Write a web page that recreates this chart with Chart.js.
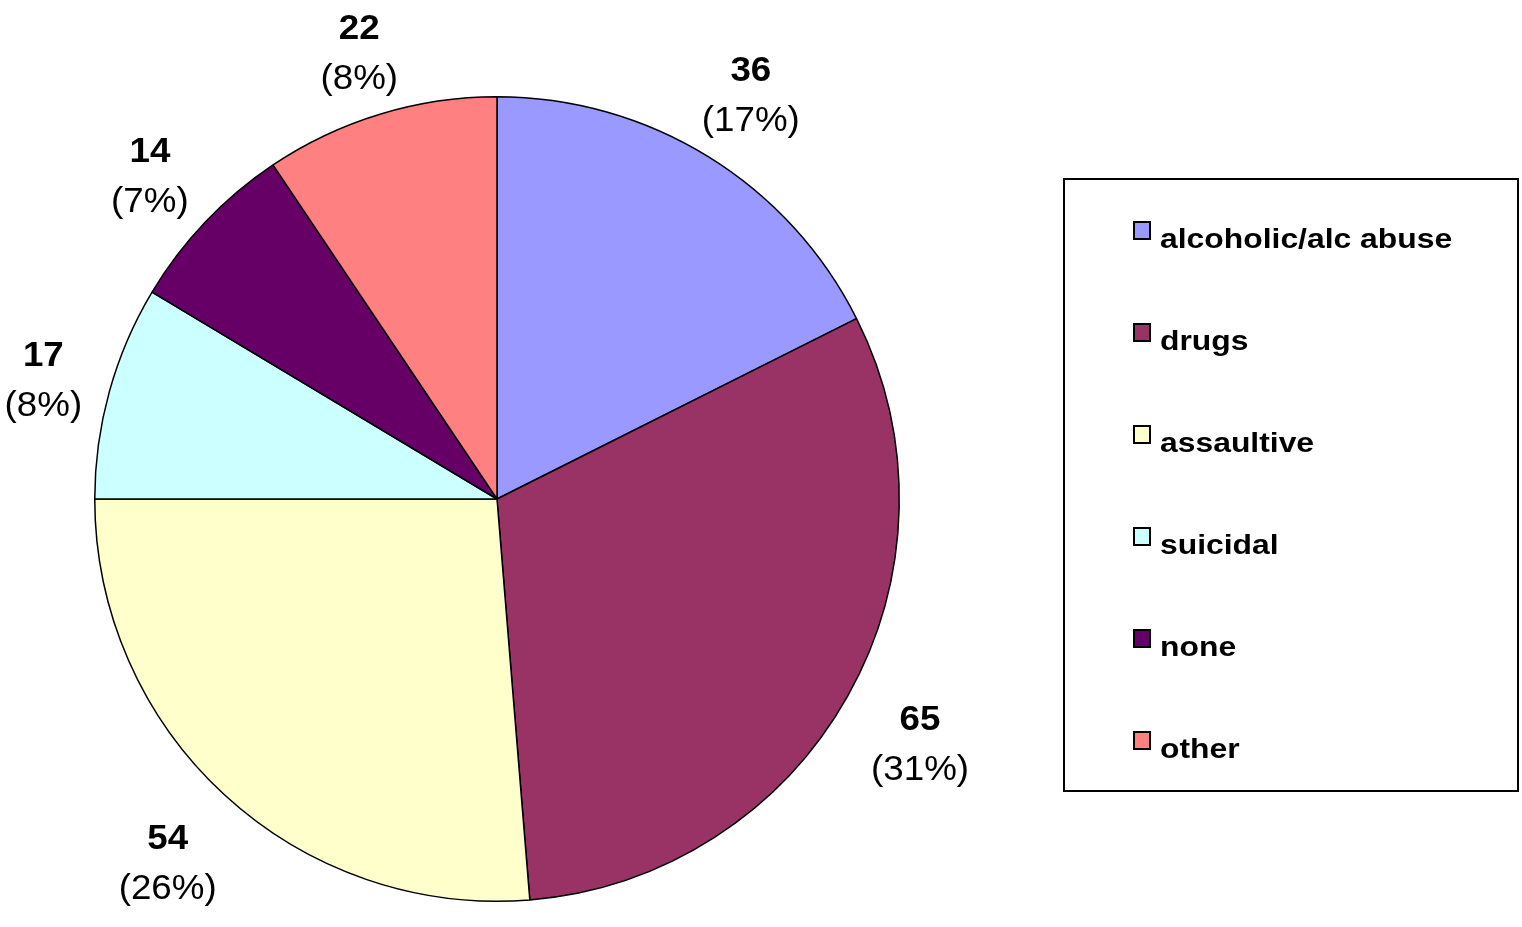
<!DOCTYPE html>
<html lang="en">
<head>
    <meta charset="UTF-8">
    <title>Reasons pie chart</title>
    <script src="https://cdn.jsdelivr.net/npm/chart.js"></script>
    <style>
        body {
            margin: 0;
            padding: 0;
            background: #ffffff;
        }
        #wrap {
            position: relative;
            width: 1522px;
            height: 927px;
        }
    </style>
</head>
<body>
    <div id="wrap">
        <canvas id="pieChart"></canvas>
    </div>
    <script>
        // chart data
        var categories = ['alcoholic/alc abuse', 'drugs', 'assaultive', 'suicidal', 'none', 'other'];
        var counts = [36, 65, 54, 17, 14, 22];
        var percentLabels = ['17%', '31%', '26%', '8%', '7%', '8%'];
        // slice sizes as drawn in the picture (share of the circle, %)
        var sliceShares = [17.6, 31.1, 26.3, 8.6, 7.0, 9.4];
        var sliceColors = ['#9999FF', '#993366', '#FFFFCC', '#CCFFFF', '#660066', '#FF8080'];

        var FONT = '"Liberation Sans", Arial, sans-serif';

        // numbers + percentages just outside each slice
        var sliceLabels = {
            id: 'sliceLabels',
            afterDatasetsDraw: function(chart) {
                var ctx = chart.ctx;
                var arcs = chart.getDatasetMeta(0).data;
                var sx = 1.05;
                var gap = 20;
                var halfH = 41.5;
                ctx.save();
                ctx.fillStyle = '#000';
                ctx.textAlign = 'center';
                ctx.textBaseline = 'alphabetic';
                arcs.forEach(function(arc, i) {
                    var p = arc.getProps(['x', 'y', 'startAngle', 'endAngle', 'outerRadius'], true);
                    var mid = (p.startAngle + p.endAngle) / 2;
                    var dx = Math.cos(mid), dy = Math.sin(mid);
                    var numText = String(counts[i]);
                    var pctText = '(' + percentLabels[i] + ')';

                    ctx.font = 'bold 35px ' + FONT;
                    var w1 = ctx.measureText(numText).width * sx;
                    ctx.font = '35px ' + FONT;
                    var w2 = ctx.measureText(pctText).width * sx;
                    var halfW = Math.max(w1, w2) / 2;

                    // push the label box out until it clears the circle
                    var dist = p.outerRadius + gap + halfW * Math.abs(dx) + halfH * Math.abs(dy);
                    var cx = p.x + dx * dist;
                    var cy = p.y + dy * dist + 10;

                    ctx.save();
                    ctx.translate(cx, cy - 17);
                    ctx.scale(sx, 1);
                    ctx.font = 'bold 35px ' + FONT;
                    ctx.fillText(numText, 0, 0);
                    ctx.restore();

                    ctx.save();
                    ctx.translate(cx, cy + 33);
                    ctx.scale(sx, 1);
                    ctx.font = '35px ' + FONT;
                    ctx.fillText(pctText, 0, 0);
                    ctx.restore();
                });
                ctx.restore();
            }
        };

        // boxed legend on the right
        var boxLegend = {
            id: 'boxLegend',
            afterDraw: function(chart) {
                var ctx = chart.ctx;
                ctx.save();
                ctx.strokeStyle = '#000';
                ctx.lineWidth = 2;
                ctx.strokeRect(1064, 179, 454, 612);

                categories.forEach(function(name, i) {
                    var base = 248 + i * 102;
                    ctx.fillStyle = sliceColors[i];
                    ctx.fillRect(1134, base - 26, 16, 17);
                    ctx.lineWidth = 2;
                    ctx.strokeRect(1134, base - 26, 16, 17);

                    ctx.save();
                    ctx.translate(1160, base);
                    ctx.scale(1.18, 1);
                    ctx.fillStyle = '#000';
                    ctx.font = 'bold 27px ' + FONT;
                    ctx.textAlign = 'left';
                    ctx.fillText(name, 0, 0);
                    ctx.restore();
                });
                ctx.restore();
            }
        };

        var ctx = document.getElementById('pieChart').getContext('2d');
        window.myChart = new Chart(ctx, {
            type: 'pie',
            data: {
                labels: categories,
                datasets: [{
                    data: sliceShares,
                    backgroundColor: sliceColors,
                    borderColor: '#000000',
                    borderWidth: 1.5
                }]
            },
            options: {
                responsive: true,
                maintainAspectRatio: false,
                animation: false,
                layout: {
                    padding: { left: 94, right: 622, top: 96, bottom: 25 }
                },
                plugins: {
                    legend: { display: false },
                    tooltip: { enabled: false }
                }
            },
            plugins: [sliceLabels, boxLegend]
        });
    </script>
</body>
</html>
